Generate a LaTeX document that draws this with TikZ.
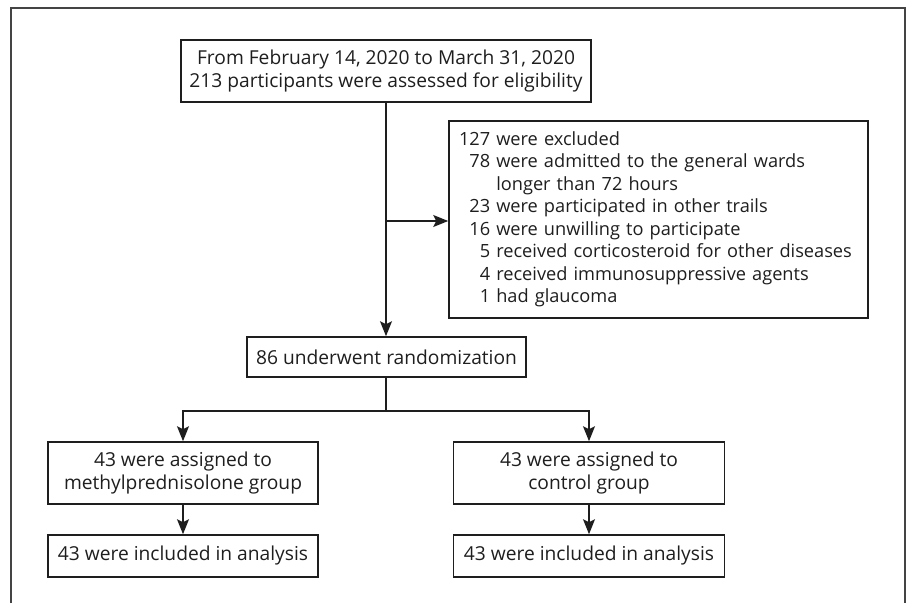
\documentclass[tikz,border=0pt]{standalone}
\usepackage{fontspec}
\setmainfont{Open Sans}
\usetikzlibrary{arrows.meta}
\definecolor{ink}{HTML}{1E1E1E}
\definecolor{framec}{HTML}{444444}
\tikzset{
  box/.style={draw=ink, line width=1.6pt, rectangle, inner sep=0pt, align=center,
    text=ink, font=\fontsize{19.2}{22.5}\selectfont},
  listbox/.style={box, align=left, inner xsep=10pt, font=\fontsize{18.2}{22.5}\selectfont},
  conn/.style={draw=ink, line width=1.4pt},
  arr/.style={conn, -{Stealth[length=15pt,width=12pt,inset=3pt]}},
}
\begin{document}
\begin{tikzpicture}[x=1pt,y=-1pt]
\useasboundingbox (0,0) rectangle (912,603);
\draw[draw=framec, line width=1.1pt] (11,603) -- (11,8) -- (905,8) -- (905,603);

\node[box, minimum width=410pt, minimum height=62pt] (top) at (386,71)
  {From February 14, 2020 to March 31, 2020\\213 participants were assessed for eligibility};
\node[listbox, minimum width=419pt, minimum height=197pt, text width=399pt] (excl) at (658.5,219.5)
  {\mbox{127 were excluded}\\
   \mbox{\phantom{1}78 were admitted to the general wards}\\
   \mbox{\phantom{178}\ longer than 72 hours}\\
   \mbox{\phantom{1}23 were participated in other trails}\\
   \mbox{\phantom{1}16 were unwilling to participate}\\
   \mbox{\phantom{11}5 received corticosteroid for other diseases}\\
   \mbox{\phantom{11}4 received immunosuppressive agents}\\
   \mbox{\phantom{11}1 had glaucoma}};
\node[box, minimum width=279pt, minimum height=40pt] (rand) at (386.5,357) {86 underwent randomization};
\node[box, minimum width=270pt, minimum height=62pt] (a1) at (183,473) {43 were assigned to\\methylprednisolone group};
\node[box, minimum width=271pt, minimum height=62pt] (a2) at (589,473) {43 were assigned to\\control group};
\node[box, minimum width=270pt, minimum height=42pt] (i1) at (183,556) {43 were included in analysis};
\node[box, minimum width=271pt, minimum height=42pt] (i2) at (589,556) {43 were included in analysis};

\coordinate (br) at (386,221);
\coordinate (split) at (386,411);

\draw[arr] (top.south -| br) -- (rand.north -| br);
\draw[arr] (br) -- (br -| excl.west);
\draw[conn] (rand.south -| split) -- (split);
\draw[arr] (split) -| (a1.north);
\draw[arr] (split) -| (a2.north);
\draw[arr] (a1) -- (i1);
\draw[arr] (a2) -- (i2);
\end{tikzpicture}
\end{document}
